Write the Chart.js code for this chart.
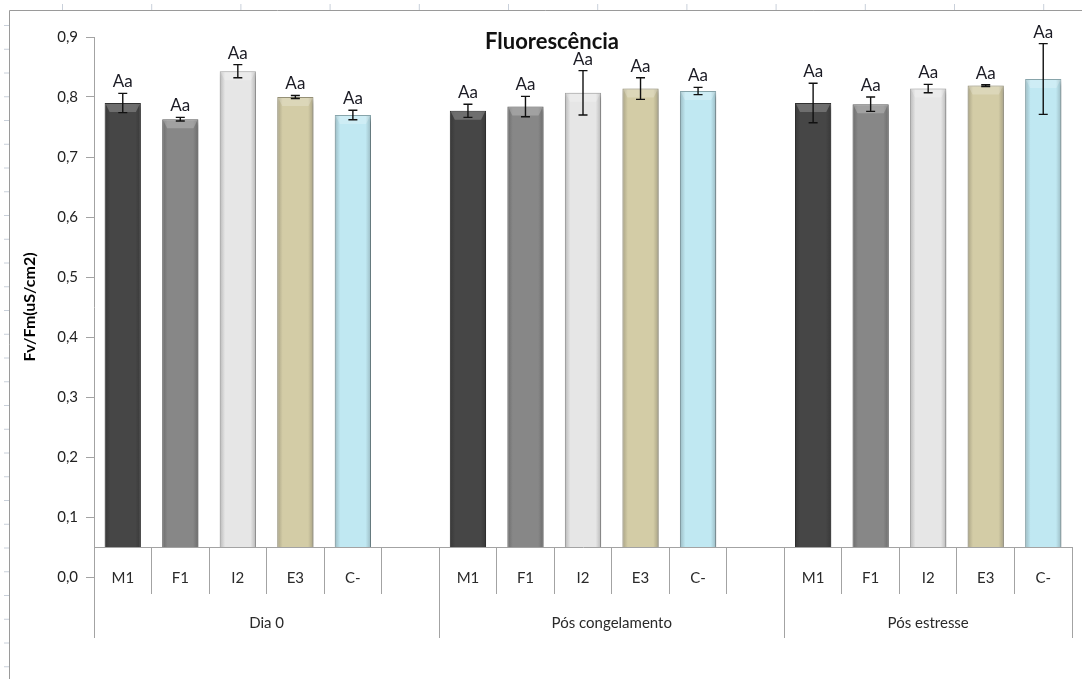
<!DOCTYPE html>
<html><head><meta charset="utf-8">
<script src="https://cdn.jsdelivr.net/npm/chart.js@4.4.0/dist/chart.umd.min.js"></script>
<style>html,body{margin:0;padding:0;background:#fff;overflow:hidden}#wrap{width:1082px;height:679px;position:relative}</style>
</head><body><div id="wrap"><canvas id="c" width="1082" height="679"></canvas></div>
<script>
// ---- data ----
const CATEGORIES = ['M1','F1','I2','E3','C-','', 'M1','F1','I2','E3','C-','', 'M1','F1','I2','E3','C-'];
const GROUPS = ['Dia 0','Pós congelamento','Pós estresse'];
const GROUP_SIZES = [6, 6, 5];
const VALUES = [0.790, 0.763, 0.843, 0.800, 0.770, null,
                0.777, 0.784, 0.807, 0.814, 0.810, null,
                0.790, 0.788, 0.814, 0.819, 0.830];
const ERRORS = [0.016, 0.003, 0.011, 0.0025, 0.008, null,
                0.011, 0.017, 0.037, 0.018, 0.006, null,
                0.033, 0.012, 0.007, 0.0015, 0.059];
const SIG_LABELS = ['Aa','Aa','Aa','Aa','Aa',null,'Aa','Aa','Aa','Aa','Aa',null,'Aa','Aa','Aa','Aa','Aa'];
const Y_TICKS = [0, 0.1, 0.2, 0.3, 0.4, 0.5, 0.6, 0.7, 0.8, 0.9];
const Y_TICK_LABELS = ['0,0','0,1','0,2','0,3','0,4','0,5','0,6','0,7','0,8','0,9'];
const AXIS_CROSS = 0.05;
const TITLE = 'Fluorescência';
const Y_TITLE = 'Fv/Fm(uS/cm2)';
const COLORS = {'M1':'#464646','F1':'#878787','I2':'#e6e6e6','E3':'#d3cca6','C-':'#c0e8f2'};

// ---- helpers ----
function shade(hex, f){
  const n = parseInt(hex.slice(1),16);
  let r=(n>>16)&255,g=(n>>8)&255,b=n&255;
  r=Math.round(r*f);g=Math.round(g*f);b=Math.round(b*f);
  return 'rgb('+Math.min(255,r)+','+Math.min(255,g)+','+Math.min(255,b)+')';
}
// group boundary and centre positions on the secondary (linear) axis
const GROUP_BOUNDS = [0];
GROUP_SIZES.forEach(s => GROUP_BOUNDS.push(GROUP_BOUNDS[GROUP_BOUNDS.length-1] + s));
const GROUP_CENTERS = GROUP_SIZES.map((s,i) => GROUP_BOUNDS[i] + s/2);
const X2_TICKS = GROUP_BOUNDS.concat(GROUP_CENTERS).sort((a,b)=>a-b);
const TOTAL_SLOTS = GROUP_BOUNDS[GROUP_BOUNDS.length-1];
const BAR_PCT = 0.63;
const AXIS_GREY = '#a3a3a3';

const frame = {
  id:'frame',
  beforeDraw(chart){
    const c = chart.ctx; c.save();
    c.fillStyle = '#fff'; c.fillRect(0,0,chart.width,chart.height);
    c.strokeStyle = '#c9d0da'; c.lineWidth = 1;
    for (let y = 25.5; y < chart.height; y += 23.75){ c.beginPath(); c.moveTo(4,y); c.lineTo(9,y); c.stroke(); }
    for (let x = 62.5; x < chart.width; x += 89.2){ c.beginPath(); c.moveTo(x,4); c.lineTo(x,10); c.stroke(); }
    c.strokeStyle = '#9a9a9a';
    c.beginPath(); c.moveTo(9.5,chart.height); c.lineTo(9.5,10.5); c.lineTo(chart.width,10.5); c.stroke();
    c.restore();
  }
};

const decor = {
  id:'decor',
  beforeDatasetsDraw(chart){
    const c = chart.ctx; c.save();
    c.shadowColor = 'rgba(0,0,0,0.38)'; c.shadowBlur = 5; c.shadowOffsetX = 1.5; c.shadowOffsetY = 2.5;
  },
  afterDatasetsDraw(chart){
    const c = chart.ctx; c.restore();
    const meta = chart.getDatasetMeta(0), ys = chart.scales.y;
    c.save();
    meta.data.forEach((bar,i) => {
      const v = VALUES[i]; if (v == null) return;
      // bevel highlight on the bar top
      const hw = bar.width/2;
      c.fillStyle = 'rgba(255,255,255,0.22)';
      c.beginPath(); c.moveTo(bar.x-hw+1,bar.y+1); c.lineTo(bar.x+hw-1,bar.y+1);
      c.lineTo(bar.x+hw-5,bar.y+9); c.lineTo(bar.x-hw+5,bar.y+9); c.closePath(); c.fill();
    });
    meta.data.forEach((bar,i) => {
      const v = VALUES[i], e = ERRORS[i]; if (v == null) return;
      const yt = ys.getPixelForValue(v+e), yb = ys.getPixelForValue(v-e);
      c.strokeStyle = '#111'; c.lineWidth = 1.4;
      c.beginPath();
      c.moveTo(bar.x, yt); c.lineTo(bar.x, yb);
      c.moveTo(bar.x-4.5, yt); c.lineTo(bar.x+4.5, yt);
      c.moveTo(bar.x-4.5, yb); c.lineTo(bar.x+4.5, yb);
      c.stroke();
      if (SIG_LABELS[i]){
        c.fillStyle = '#1b1b24'; c.font = '17px Lato'; c.textAlign = 'center'; c.textBaseline = 'bottom';
        c.fillText(SIG_LABELS[i], bar.x, Math.min(yt, bar.y) - 3);
      }
    });
    c.restore();
  },
  afterDraw(chart){
    const c = chart.ctx; c.save();
    c.fillStyle = '#111'; c.font = 'bold 22px Lato'; c.textAlign = 'center'; c.textBaseline = 'middle';
    c.fillText(TITLE, 552, 42);
    c.restore();
  }
};

function barFill(ctx){
  const chart = ctx.chart, base = COLORS[CATEGORIES[ctx.dataIndex]] || '#fff';
  const xs = chart.scales && chart.scales.x;
  if (!chart.chartArea || !xs) return base;
  const x = xs.getPixelForValue(ctx.dataIndex);
  const w = xs.width / CATEGORIES.length * BAR_PCT;
  const g = chart.ctx.createLinearGradient(x - w/2, 0, x + w/2, 0);
  g.addColorStop(0, shade(base, 0.80));
  g.addColorStop(0.15, base);
  g.addColorStop(0.85, base);
  g.addColorStop(1, shade(base, 0.80));
  return g;
}

new Chart(document.getElementById('c'), {
  type:'bar',
  data:{
    labels: CATEGORIES,
    datasets:[{
      data: VALUES,
      base: AXIS_CROSS,
      backgroundColor: barFill,
      borderColor: CATEGORIES.map(k => COLORS[k] ? shade(COLORS[k], 0.72) : '#fff'),
      borderWidth: 1,
      barPercentage: BAR_PCT,
      categoryPercentage: 1.0
    }]
  },
  options:{
    responsive:false, animation:false,
    layout:{ padding:{ top:37, right:10, bottom:102, left:0 } },
    plugins:{ legend:{display:false}, tooltip:{enabled:false}, title:{display:false} },
    scales:{
      x:{
        type:'category', offset:true,
        position:{ y: AXIS_CROSS },
        grid:{ display:true, offset:true, drawOnChartArea:false, drawTicks:true, tickLength:46, tickColor:AXIS_GREY, color:AXIS_GREY, lineWidth:1 },
        border:{ display:true, color:AXIS_GREY, width:1 },
        ticks:{ autoSkip:false, maxRotation:0, minRotation:0, padding:-24, color:'#2a2a2a', font:{ family:'Lato', size:15 } }
      },
      x2:{
        type:'linear', axis:'x', min:0, max:TOTAL_SLOTS, offset:false,
        position:{ y: AXIS_CROSS },
        afterBuildTicks: s => { s.ticks = X2_TICKS.map(v => ({ value:v })); },
        grid:{ display:true, offset:false, drawOnChartArea:false, drawTicks:true, tickLength:91,
               tickColor: c => (c.tick && GROUP_BOUNDS.includes(c.tick.value)) ? AXIS_GREY : 'rgba(0,0,0,0)', lineWidth:1 },
        border:{ display:false },
        ticks:{ autoSkip:false, maxRotation:0, minRotation:0, padding:-24, color:'#2a2a2a', font:{ family:'Lato', size:15 },
                callback: v => { const k = GROUP_CENTERS.indexOf(v); return k >= 0 ? GROUPS[k] : ''; } }
      },
      y:{
        type:'linear', min:0, max:0.9, position:'left',
        afterBuildTicks: s => { s.ticks = Y_TICKS.map(v => ({ value:v })); },
        afterFit: s => { s.width = 94; },
        grid:{ display:true, drawOnChartArea:false, drawTicks:true, tickLength:8, tickColor:AXIS_GREY, lineWidth:1 },
        border:{ display:true, color:AXIS_GREY, width:1 },
        ticks:{ padding:8, color:'#222', font:{ family:'Lato', size:15 }, callback:(v,i) => Y_TICK_LABELS[i] },
        title:{ display:true, text:Y_TITLE, color:'#000', font:{ family:'Lato', size:16, weight:'bold' }, padding:{ top:20, bottom:0 } }
      }
    }
  },
  plugins:[frame, decor]
});
</script>
</body></html>
